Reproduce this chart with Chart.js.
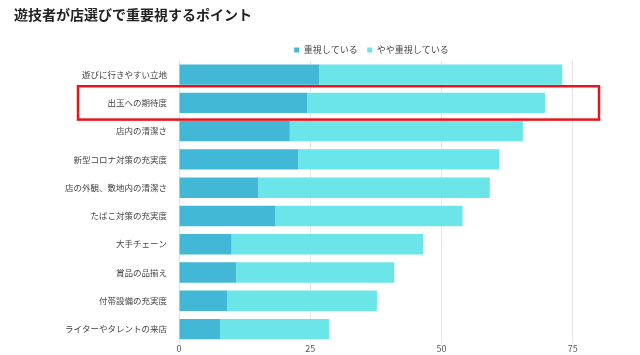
<!DOCTYPE html>
<html><head><meta charset="utf-8">
<script src="https://cdn.jsdelivr.net/npm/chart.js@4/dist/chart.umd.min.js"></script>
<style>
html,body{margin:0;padding:0;background:#fff;}
#wrap{position:relative;width:640px;height:355px;}
#title{position:absolute;left:14px;top:4px;font:bold 14px 'Noto Sans CJK JP',sans-serif;color:#222;}
canvas{position:absolute;left:0;top:0;}
</style></head>
<body>
<div id="wrap">
<canvas id="c" width="640" height="355"></canvas>
<div id="title">遊技者が店選びで重要視するポイント</div>
</div>
<script>
const categories = ['遊びに行きやすい立地','出玉への期待度','店内の清潔さ','新型コロナ対策の充実度','店の外観、敷地内の清潔さ','たばこ対策の充実度','大手チェーン','賞品の品揃え','付帯設備の充実度','ライターやタレントの来店'];
const seriesNames = ['重視している','やや重視している'];
const important = [26.7,24.4,21.1,22.7,15.1,18.3,10.0,10.9,9.2,7.8];
const somewhat = [46.3,45.3,44.4,38.3,44.1,35.7,36.5,30.1,28.5,20.8];
const highlightIndex = 1;

const FONT = "'Noto Sans CJK JP','Noto Sans',sans-serif";

const highlightPlugin = {
  id: 'highlight',
  afterLayout(chart) {
    const lg = chart.legend;
    if (lg) { lg.left += 42; lg.right += 42; lg.top += 4; lg.bottom += 4; }
  },
  afterDatasetsDraw(chart) {
    const y = chart.scales.y;
    const ca = chart.chartArea;
    const step = y.getPixelForValue(1) - y.getPixelForValue(0);
    const cy = y.getPixelForValue(highlightIndex);
    const ctx = chart.ctx;
    ctx.save();
    ctx.strokeStyle = '#e8141b';
    ctx.lineWidth = 2.5;
    const top = cy - step * 0.59, bot = cy + step * 0.59;
    ctx.strokeRect(ca.left - 101, top, ca.right - (ca.left - 101), bot - top);
    ctx.restore();
  }
};

new Chart(document.getElementById('c'), {
  type: 'bar',
  data: {
    labels: categories,
    datasets: [
      { label: seriesNames[0], data: important, backgroundColor: '#42b7d6', borderWidth: 0 },
      { label: seriesNames[1], data: somewhat, backgroundColor: '#6be5e8', borderWidth: 0 }
    ]
  },
  options: {
    indexAxis: 'y',
    responsive: false,
    animation: false,
    layout: { padding: { left: 60, right: 41, top: 32, bottom: 1 } },
    plugins: {
      legend: {
        position: 'top',
        labels: { boxWidth: 5, boxHeight: 5, font: { family: FONT, size: 9 }, color: '#444', padding: 9.5 }
      },
      tooltip: { enabled: false }
    },
    scales: {
      x: {
        stacked: true, min: 0, max: 80,
        ticks: { stepSize: 25, includeBounds: false, font: { family: FONT, size: 9 }, color: '#555', padding: 0 },
        grid: { color: '#e6e6e6', drawTicks: false },
        border: { display: false }
      },
      y: {
        stacked: true,
        ticks: { font: { family: FONT, size: 8.5 }, color: '#444', padding: 4 },
        grid: { display: false },
        border: { display: false },
        afterFit(s) { s.width = 119; }
      }
    }
  },
  plugins: [highlightPlugin]
});
</script>
</body></html>
